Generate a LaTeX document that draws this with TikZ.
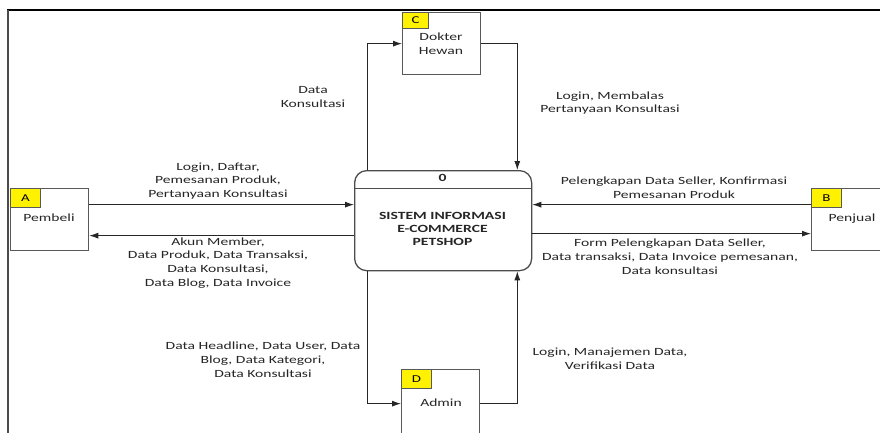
\documentclass[tikz,border=0pt]{standalone}
\usepackage{fontspec}
\setmainfont{Carlito}
\newfontfamily\lbfont[FakeStretch=1.42]{Carlito}
\usetikzlibrary{arrows.meta}
\tikzset{
  ent/.style={draw=black!65, line width=1.3pt, fill=white, minimum width=78pt, minimum height=62pt, anchor=north west, inner sep=0pt},
  tab/.style={draw=black!65, fill=yellow, line width=1pt, anchor=north west, minimum width=30pt, minimum height=19pt, inner sep=0pt, font=\lbfont\fontsize{10.5}{12}\selectfont},
  lbl/.style={align=center, font=\lbfont\fontsize{11}{13.8}\selectfont, text=black!85, inner sep=0pt},
  flow/.style={-{Latex[length=9pt,width=6pt]}, line width=0.9pt, draw=black!85},
}
\begin{document}
\begin{tikzpicture}[x=1pt,y=-1pt]
\useasboundingbox (0,0) rectangle (880,433);
\clip (0,0) rectangle (880,433);
\fill[white] (0,0) rectangle (880,433);
% frame
\draw[line width=1.3pt, black] (7,10) -- (880,10);
\draw[line width=2pt, black!70] (8,10) -- (8,433);
% entities
\node[ent] (pembeli) at (10,188) {};
\node[tab] (tabA) at (10,188) {A};
\node[lbl] (tPembeli) at (49,218) {Pembeli};

\node[ent] (dokter) at (402,12) {};
\node[tab, minimum width=26pt, minimum height=16pt] (tabC) at (402,12) {C};
\node[lbl] (tDokter) at (441,44) {Dokter\\Hewan};

\node[ent] (penjual) at (811,188) {};
\node[tab] (tabB) at (811,188) {B};
\node[lbl] (tPenjual) at (852,219) {Penjual};

\node[ent, minimum height=68pt] (admin) at (401,369) {};
\node[tab] (tabD) at (401,369) {D};
\node[lbl] (tAdmin) at (441,403) {Admin};

% process
\node[draw=black!70, line width=1.3pt, rounded corners=12pt, minimum width=177pt, minimum height=100pt, anchor=north west, inner sep=0pt] (sys) at (354,170) {};
\draw[line width=1pt, black!70] (sys.north west |- 0,188) -- (sys.north east |- 0,188);
\node[lbl, font=\lbfont\bfseries\fontsize{11}{13.8}\selectfont] (num) at (442.5,178) {0};
\node[lbl, font=\lbfont\bfseries\fontsize{11}{13.2}\selectfont] (title) at (442.5,229) {SISTEM INFORMASI\\E-COMMERCE\\PETSHOP};

% connectors
\coordinate (pA) at ([yshift=15pt]pembeli.east);
\coordinate (pB) at ([yshift=-16pt]pembeli.east);
\draw[flow] (pA) -- (pA -| sys.west);
\draw[flow] (pB -| sys.west) -- (pB);

\coordinate (jA) at ([yshift=15pt]penjual.west);
\coordinate (jB) at ([yshift=-14pt]penjual.west);
\draw[flow] (jA) -- (jA -| sys.east);
\draw[flow] (jB -| sys.east) -- (jB);

\draw[flow] ([xshift=13pt]sys.north west) |- (dokter.west);
\draw[flow] (dokter.east) -| ([xshift=-15pt]sys.north east);

\draw[flow] ([xshift=13pt]sys.south west) |- (admin.west);
\draw[flow] (admin.east) -| ([xshift=-15pt]sys.south east);

% labels
\node[lbl] (l1) at (218,181) {Login, Daftar,\\Pemesanan Produk,\\Pertanyaan Konsultasi};
\node[lbl] (l2) at (218,263) {Akun Member,\\Data Produk, Data Transaksi,\\Data Konsultasi,\\Data Blog, Data Invoice};
\node[lbl] (l3) at (313,97) {Data\\Konsultasi};
\node[lbl] (l4) at (610,103) {Login, Membalas\\Pertanyaan Konsultasi};
\node[lbl] (l5) at (674,188) {Pelengkapan Data Seller, Konfirmasi\\Pemesanan Produk};
\node[lbl] (l6) at (670,257) {Form Pelengkapan Data Seller,\\Data transaksi, Data Invoice pemesanan,\\Data konsultasi};
\node[lbl] (l7) at (263,360) {Data Headline, Data User, Data\\Blog, Data Kategori,\\Data Konsultasi};
\node[lbl] (l8) at (610,359) {Login, Manajemen Data,\\Verifikasi Data};
\end{tikzpicture}
\end{document}
